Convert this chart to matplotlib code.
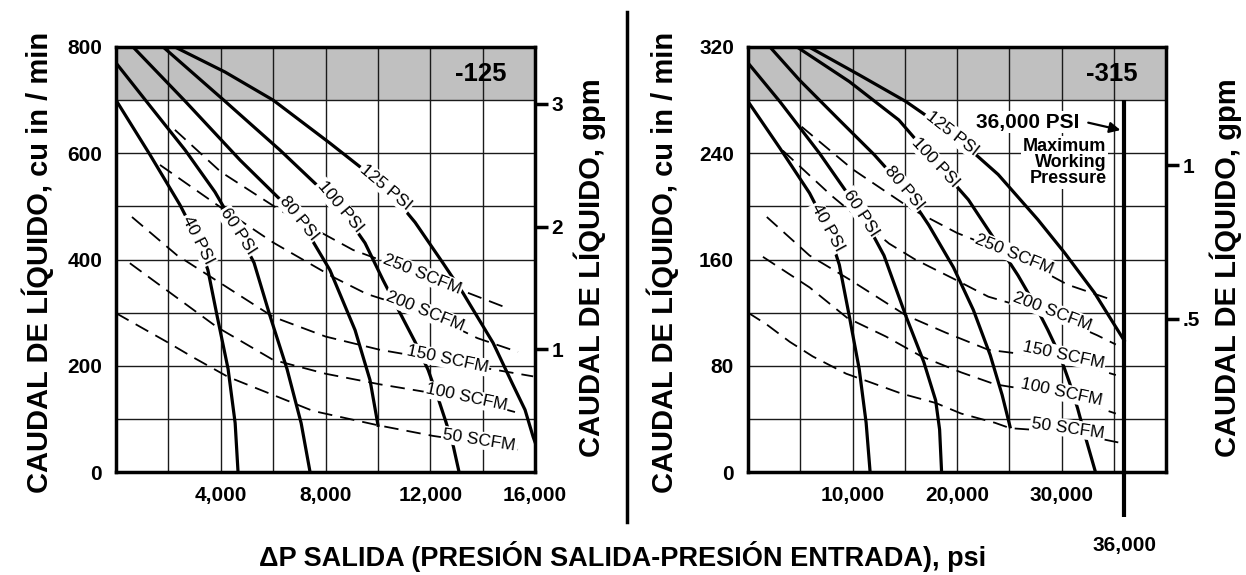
import matplotlib.pyplot as plt
import matplotlib.transforms as mtransforms
from matplotlib.lines import Line2D
import numpy as np

plt.rcParams['font.family'] = ['Liberation Sans', 'DejaVu Sans']

GPM = 231.0               # cu in per US gallon
MAX_WORKING_PSI = 36000   # -315 pump limit

# --- -125 pump: constant air pressure curves (outlet dP psi, flow cu in/min) ---
left_psi_names = ['40 PSI', '60 PSI', '80 PSI', '100 PSI', '125 PSI']
left_psi_x = [
    [0, 1300, 2440, 3130, 3510, 3860, 4280, 4550, 4660],
    [0, 1300, 2640, 3780, 4660, 5270, 5880, 6530, 7070, 7410],
    [650, 2640, 4740, 6990, 8170, 9130, 9700, 10005],
    [1800, 4160, 6260, 8550, 9510, 10200, 10850, 11420, 11920, 12300, 12600,
     12870, 13100],
    [2250, 4160, 6000, 8170, 10310, 11420, 12490, 13250, 14400, 15130, 15620,
     15930, 16380],
]
left_psi_y = [
    [700, 597, 503, 437, 380, 294, 194, 92, 0],
    [770, 689, 606, 527, 452, 394, 294, 194, 92, 0],
    [800, 698, 587, 478, 380, 267, 173, 88],
    [800, 698, 606, 499, 431, 361, 299, 245, 192, 139, 94, 51, 0],
    [800, 753, 700, 619, 536, 470, 393, 337, 243, 167, 117, 66, 4],
]

# --- -125 pump: constant air consumption curves ---
left_scfm_names = ['250 SCFM', '200 SCFM', '150 SCFM', '100 SCFM', '50 SCFM']
left_scfm_x = [
    [2250, 4000, 6260, 9050, 11700, 13400, 14970],
    [1680, 3970, 6000, 8290, 9580, 11800, 13800, 15350],
    [610, 2330, 6000, 8000, 10080, 12650, 15930],
    [530, 3850, 6000, 8000, 10080, 13370, 15300],
    [0, 1940, 2940, 4280, 7520, 10000, 12100, 13860, 15350],
]
left_scfm_y = [
    [644, 565, 493, 418, 370, 338, 308],
    [578, 499, 432, 367, 335, 300, 252, 226],
    [480, 408, 292, 255, 230, 208, 180],
    [393, 273, 211, 185, 165, 138, 112],
    [299, 245, 216, 179, 115, 88, 68, 55, 42],
]

# --- -315 pump: constant air pressure curves ---
right_psi_names = left_psi_names
right_psi_x = [
    [0, 3040, 5890, 7600, 8740, 9690, 10640, 11305, 11685],
    [0, 3040, 6840, 10830, 13015, 15105, 16815, 17955, 18335, 18525],
    [2100, 4940, 8740, 12065, 14915, 17290, 19665, 21565, 23180, 24320, 25080],
    [4690, 9690, 14440, 17955, 21090, 23940, 25840, 27455, 28690, 29830,
     30780, 31540, 32300, 33250],
    [5840, 10640, 15100, 19500, 23940, 27740, 30300, 33150, 36000],
]
right_psi_y = [
    [279, 244, 210, 184, 156, 117.5, 77.6, 37, 0],
    [308, 279, 240, 195, 163, 117.5, 83, 54, 32, 0],
    [320, 295, 265, 239, 214, 186, 154, 122, 88, 58, 34],
    [320, 294, 265, 233, 205, 171, 148, 126, 107, 88, 67, 48, 26, 0],
    [320, 299, 279, 255, 224, 190, 165, 135, 99],
]

# --- -315 pump: constant air consumption curves ---
right_scfm_names = left_scfm_names
right_scfm_x = [
    [5130, 10000, 15650, 20000, 25400, 30600, 34700],
    [3330, 8000, 13500, 16000, 19800, 23000, 29100, 33400, 35200],
    [1800, 5890, 9700, 15100, 18900, 23000, 30100, 35200],
    [1430, 5890, 9500, 13200, 16600, 20400, 23650, 29900, 35200],
    [0, 1800, 4000, 6200, 9400, 11900, 14700, 17950, 20400, 23650, 25080,
     30600, 35600],
]
right_scfm_y = [
    [260, 228, 198, 180, 163, 141, 130],
    [242, 208, 172, 160, 145, 132, 118, 103, 96],
    [192, 163, 145, 118, 105, 92, 85, 73],
    [162, 139, 116, 102, 87, 75, 66, 58, 44],
    [120, 111, 98, 87, 74, 67, 59, 52, 44, 37, 33, 30, 22],
]

# --- label placement: (x, y, rotation) ---
left_psi_lab = [(3130, 437, -63), (4660, 452, -57), (6990, 478, -51),
                (8550, 499, -50), (10310, 536, -40)]
left_scfm_lab = [(11690, 372, -22), (11800, 302, -22), (12650, 212, -12),
                 (13370, 140, -12), (13860, 60, -9)]
right_psi_lab = [(7600, 184, -61), (10830, 195, -57), (14915, 214, -50),
                 (17955, 233, -47), (19500, 255, -38)]
right_scfm_lab = [(25500, 164, -22), (29100, 121, -21), (30200, 88, -12),
                  (30000, 60, -12), (30600, 33, -8)]

LABEL_BOX = dict(boxstyle='square,pad=0.08', fc='white', ec='none')


def draw_curves(ax, psi_x, psi_y, psi_names, scfm_x, scfm_y, scfm_names,
                psi_lab, scfm_lab):
    for xs, ys in zip(psi_x, psi_y):
        ax.plot(xs, ys, color='black', lw=2.3, zorder=3)
    for xs, ys in zip(scfm_x, scfm_y):
        ax.plot(xs, ys, color='black', lw=1.3, dashes=(8, 4.5), zorder=3)
    for names, labs in ((psi_names, psi_lab), (scfm_names, scfm_lab)):
        for name, (lx, ly, rot) in zip(names, labs):
            ax.text(lx, ly, name, rotation=rot, rotation_mode='anchor',
                    ha='center', va='center', fontsize=12.5, zorder=5,
                    bbox=LABEL_BOX)


def style_axes(ax, xmax, ymax, band, xmaj, xlabels, xmin_step, ymaj, ymin_step,
               gpm_ticks, gpm_labels, tag):
    ax.set_xlim(0, xmax)
    ax.set_ylim(0, ymax)
    ax.axhspan(band, ymax, color='#c0c0c0', lw=0, zorder=0)
    ax.set_xticks(xmaj)
    ax.set_xticklabels(xlabels, fontweight='bold')
    ax.set_xticks(np.arange(xmin_step, xmax, xmin_step), minor=True)
    ax.set_yticks(ymaj)
    ax.set_yticklabels([str(v) for v in ymaj], fontweight='bold')
    ax.set_yticks(np.arange(ymin_step, ymax, ymin_step), minor=True)
    ax.grid(True, which='both', color='#1a1a1a', lw=1.0)
    ax.set_axisbelow(True)
    ax.tick_params(which='both', length=0, labelsize=15)
    ax.tick_params(axis='x', pad=10)
    ax.tick_params(axis='y', pad=10)
    for s in ax.spines.values():
        s.set_linewidth(2.5)
        s.set_zorder(6)
    ax.text(0.933, (band + ymax) / 2, tag, transform=ax.get_yaxis_transform(),
            ha='right', va='center', fontsize=18.5, fontweight='bold', zorder=6)

    axr = ax.twinx()
    axr.set_ylim(0, ymax / GPM)
    axr.set_yticks(gpm_ticks)
    axr.set_yticklabels(gpm_labels, fontweight='bold')
    axr.tick_params(axis='y', direction='out', length=9, width=2.5, labelsize=15, pad=3)
    for s in axr.spines.values():
        s.set_visible(False)
    return axr


fig = plt.figure(figsize=(12.46, 5.75), dpi=100)
ax1 = fig.add_axes([116 / 1246, 103 / 575, 419 / 1246, 425 / 575])
ax2 = fig.add_axes([748 / 1246, 103 / 575, 418 / 1246, 425 / 575])

style_axes(ax1, 16000, 800, 700, [4000, 8000, 12000, 16000],
           ['4,000', '8,000', '12,000', '16,000'], 2000, [0, 200, 400, 600, 800], 100,
           [1, 2, 3], ['1', '2', '3'], '-125')
style_axes(ax2, 40000, 320, 280, [10000, 20000, 30000],
           ['10,000', '20,000', '30,000'], 5000, [0, 80, 160, 240, 320], 40,
           [0.5, 1], ['.5', '1'], '-315')

draw_curves(ax1, left_psi_x, left_psi_y, left_psi_names,
            left_scfm_x, left_scfm_y, left_scfm_names, left_psi_lab, left_scfm_lab)
draw_curves(ax2, right_psi_x, right_psi_y, right_psi_names,
            right_scfm_x, right_scfm_y, right_scfm_names, right_psi_lab, right_scfm_lab)

# maximum working pressure line on the -315 chart
mix = mtransforms.blended_transform_factory(ax2.transData, ax2.transAxes)
ax2.plot([MAX_WORKING_PSI, MAX_WORKING_PSI], [-0.106, 280 / 320], transform=mix,
         color='black', lw=3, clip_on=False, zorder=6, solid_capstyle='butt')
figmix = mtransforms.blended_transform_factory(ax2.transData, fig.transFigure)
fig.text(MAX_WORKING_PSI, 0.052, '36,000', transform=figmix, ha='center', va='center',
         fontsize=15, fontweight='bold')
ax2.text(26800, 263.5, '36,000 PSI', ha='center', va='center', fontsize=15,
         fontweight='bold', zorder=6,
         bbox=dict(boxstyle='square,pad=0.05', fc='white', ec='none'))
ax2.annotate('', xy=(35900, 257), xytext=(32300, 263.5),
             arrowprops=dict(arrowstyle='-|>', color='black', lw=1.6, mutation_scale=16),
             zorder=6)
ax2.text(34300, 233, 'Maximum\nWorking\nPressure', ha='right', va='center',
         multialignment='right', fontsize=13, fontweight='bold', linespacing=0.95,
         zorder=6, bbox=dict(boxstyle='square,pad=0.1', fc='white', ec='none'))

# axis titles
ylab = 'CAUDAL DE LÍQUIDO, cu in / min'
glab = 'CAUDAL DE LÍQUIDO, gpm'
fig.text(38 / 1246, 0.544, ylab, rotation=90, ha='center', va='center',
         fontsize=21, fontweight='bold')
fig.text(590 / 1246, 0.534, glab, rotation=90, ha='center', va='center',
         fontsize=21, fontweight='bold')
fig.text(663 / 1246, 0.544, ylab, rotation=90, ha='center', va='center',
         fontsize=21, fontweight='bold')
fig.text(1226 / 1246, 0.534, glab, rotation=90, ha='center', va='center',
         fontsize=21, fontweight='bold')
fig.text(0.5, 0.033, '\u0394P SALIDA (PRESIÓN SALIDA-PRESIÓN ENTRADA), psi',
         ha='center', va='center', fontsize=19.5, fontweight='bold')

# divider between the two charts
fig.add_artist(Line2D([627 / 1246, 627 / 1246], [53 / 575, 563 / 575],
                      color='black', lw=2.5))

fig.savefig('out.png', dpi=100)
